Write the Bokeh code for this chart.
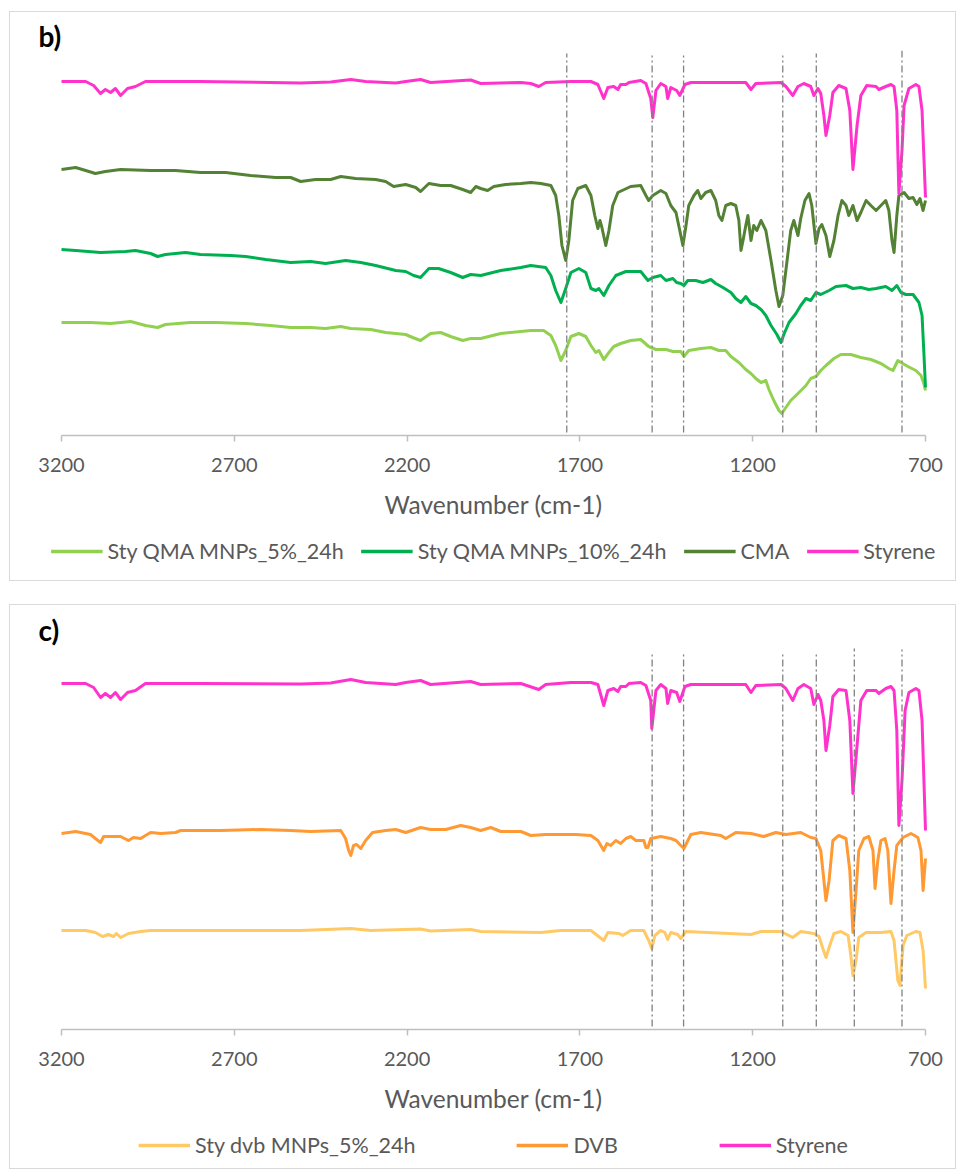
from bokeh.plotting import figure
from bokeh.models import Range1d, FixedTicker, Legend, LegendItem
from bokeh.layouts import column
from bokeh.embed import file_html
from bokeh.resources import INLINE

# ---------------------------------------------------------------- data
# FTIR spectra, transmittance offset for stacking (a.u.), wavenumber in cm-1
ticks = [3200, 2700, 2200, 1700, 1200, 700]

# panel b)
b_styrene_wn = [3200, 3130, 3107, 3087, 3073, 3058, 3044, 3029, 3009, 2986, 2957, 2798, 2508, 2421,
                2363, 2320, 2233, 2204, 2161, 2132, 2016, 1987, 1871, 1842, 1819, 1799, 1726, 1668,
                1648, 1631, 1619, 1602, 1590, 1582, 1567, 1558, 1524, 1509, 1495, 1489, 1480, 1466,
                1451, 1446, 1437, 1420, 1411, 1396, 1379, 1292, 1220, 1205, 1191, 1118, 1104, 1084,
                1069, 1052, 1032, 1023, 1011, 1003, 994, 988, 977, 968, 951, 930, 919, 910, 898, 887,
                870, 843, 835, 815, 800, 791, 783, 777, 768, 762, 748, 728, 719, 710, 700]
b_styrene_t = [354, 354, 350, 342, 346, 343, 347, 340, 347, 349, 354, 354, 352.5, 353.5,
               356, 354, 352.5, 354, 356, 353, 355.5, 352, 353, 352, 349, 353, 354, 354,
               351, 337, 348, 349, 346, 351, 351, 353, 355, 352, 337, 318, 345, 352,
               349, 337, 348, 345, 340, 351, 353, 353, 353, 346, 352, 353, 349, 340,
               349, 352, 349, 340, 347, 342, 320, 300, 320, 343, 350, 347, 325, 266, 310, 340,
               350, 349, 346, 349, 351, 349, 325, 242, 285, 330, 347, 351, 349, 325, 238]

b_cma_wn = [3200, 3159, 3130, 3102, 3073, 3029, 2942, 2870, 2798, 2725, 2653, 2580, 2537, 2508,
            2465, 2421, 2392, 2349, 2291, 2262, 2239, 2204, 2175, 2161, 2137, 2103, 2074, 2039,
            2016, 2001, 1987, 1967, 1949, 1915, 1871, 1842, 1813, 1784, 1770, 1761, 1752, 1741,
            1732, 1721, 1706, 1683, 1668, 1657, 1648, 1642, 1637, 1625, 1616, 1605, 1590, 1553,
            1524, 1509, 1501, 1489, 1466, 1451, 1437, 1422, 1411, 1402, 1393, 1385, 1370, 1359,
            1350, 1336, 1321, 1307, 1298, 1289, 1278, 1263, 1249, 1240, 1234, 1228, 1220, 1214,
            1205, 1197, 1188, 1176, 1162, 1147, 1133, 1124, 1113, 1104, 1090, 1081, 1069, 1061,
            1049, 1037, 1029, 1017, 1008, 1000, 988, 977, 965, 953, 942, 930, 922, 910, 898, 887,
            872, 858, 843, 829, 815, 806, 797, 791, 783, 777, 762, 748, 736, 725, 716, 707, 700]
b_cma_t = [266, 268, 265, 262, 264, 266, 265, 265, 263, 263, 260, 258, 258, 254,
           256, 256, 259, 257, 256, 254, 249, 251, 248, 244, 252, 250, 250, 246,
           243, 249, 247, 245, 249, 251, 252, 253, 252, 250, 240, 220, 190, 175,
           195, 235, 247, 250, 240, 220, 207, 215, 209, 190, 205, 230, 243, 249,
           250, 240, 235, 240, 245, 242, 230, 223, 205, 190, 210, 230, 240, 245,
           237, 243, 245, 235, 220, 215, 230, 232, 230, 215, 185, 195, 210, 220,
           195, 210, 205, 215, 205, 175, 145, 129, 140, 165, 205, 215, 200, 217,
           235, 242, 230, 192, 207, 211, 200, 179, 195, 220, 235, 230, 220, 230, 215, 223,
           235, 230, 225, 230, 235, 225, 195, 183, 220, 240, 243, 237, 238, 231, 237, 225, 235]

b_qma10_wn = [3200, 3159, 3087, 3015, 2986, 2942, 2922, 2899, 2841, 2798, 2711, 2667, 2609, 2537,
              2479, 2436, 2378, 2334, 2291, 2233, 2204, 2181, 2161, 2137, 2109, 2074, 2039, 2016,
              1987, 1929, 1871, 1842, 1799, 1784, 1770, 1755, 1741, 1726, 1703, 1683, 1668, 1654,
              1645, 1631, 1616, 1596, 1567, 1524, 1503, 1489, 1466, 1451, 1431, 1420, 1408, 1399,
              1388, 1365, 1344, 1321, 1307, 1286, 1263, 1249, 1234, 1220, 1205, 1191, 1176, 1162,
              1147, 1130, 1118, 1110, 1095, 1075, 1061, 1046, 1032, 1017, 1003, 979, 959, 930, 910,
              887, 864, 843, 815, 797, 783, 771, 757, 736, 719, 710, 705, 700]
b_qma10_t = [186, 185, 183, 184, 185, 182, 179, 181, 183, 181, 180, 179, 176, 173,
             174, 172, 175, 173, 170, 165, 164, 160, 158, 167, 167, 163, 158, 161,
             160, 165, 168, 170, 168, 160, 145, 133, 147, 163, 167, 163, 147, 145,
             147, 140, 150, 160, 164, 164, 155, 158, 160, 155, 157, 153, 152, 150,
             155, 155, 153, 156, 152, 148, 143, 137, 133, 139, 132, 130, 126, 120,
             110, 101, 93, 101, 113, 122, 130, 137, 135, 143, 141, 145, 149, 150, 147,
             148, 146, 147, 149, 145, 150, 143, 141, 141, 133, 120, 85, 48]

b_qma5_wn = [3200, 3116, 3058, 3000, 2957, 2922, 2899, 2827, 2754, 2667, 2595, 2537, 2479, 2436,
             2392, 2363, 2305, 2262, 2204, 2184, 2161, 2132, 2103, 2074, 2039, 2016, 1987, 1929,
             1842, 1805, 1784, 1770, 1755, 1741, 1726, 1703, 1683, 1668, 1654, 1645, 1631, 1616,
             1602, 1582, 1553, 1524, 1501, 1480, 1451, 1431, 1408, 1399, 1385, 1350, 1321, 1298,
             1278, 1263, 1240, 1220, 1205, 1191, 1176, 1162, 1153, 1139, 1124, 1116, 1104, 1090,
             1069, 1046, 1032, 1017, 1003, 988, 965, 945, 916, 887, 858, 829, 806, 794, 780, 771,
             751, 728, 713, 705, 700]
b_qma5_t = [113, 113, 112, 114, 110, 108, 111, 113, 113, 112, 110, 108, 108, 107,
            109, 107, 106, 103, 101, 98, 95, 102, 103, 99, 95, 97, 97, 102,
            105, 105, 100, 90, 75, 85, 99, 102, 99, 90, 83, 85, 76, 83,
            89, 92, 95, 96, 89, 86, 86, 84, 84, 79, 85, 87, 88, 85,
            85, 79, 73, 66, 62, 57, 53, 55, 46, 35, 25, 22, 28, 35,
            42, 50, 57, 59, 65, 70, 77, 81, 81, 78, 76, 72, 67, 65, 75, 73,
            69, 65, 60, 52, 45]

# panel c)
c_styrene_wn = [3200, 3130, 3107, 3087, 3073, 3058, 3044, 3029, 3009, 2986, 2957, 2798, 2508, 2421,
                2363, 2320, 2233, 2204, 2161, 2132, 2016, 1987, 1871, 1819, 1799, 1726, 1668, 1648,
                1631, 1619, 1602, 1590, 1582, 1567, 1558, 1524, 1509, 1495, 1492, 1480, 1466, 1451,
                1446, 1437, 1420, 1411, 1396, 1379, 1292, 1220, 1205, 1191, 1118, 1104, 1084, 1069,
                1052, 1032, 1023, 1011, 1003, 994, 988, 977, 968, 951, 930, 919, 910, 898, 887, 870,
                843, 835, 815, 800, 791, 783, 777, 768, 759, 748, 728, 719, 710, 700]
c_styrene_t = [346, 346, 342, 332, 336, 332, 337, 330, 337, 339, 346, 346, 345.5, 346.5,
               350, 347, 345, 347, 349, 345, 348, 345, 346, 340, 345, 347, 347, 345,
               324, 339, 341, 338, 343, 343, 346, 347, 344, 329, 301, 339, 345, 341,
               326, 339, 337, 328, 343, 345, 345, 345, 337, 344, 345, 341, 329, 341,
               345, 341, 325, 335, 329, 309, 279, 304, 333, 340, 339, 309, 236, 284, 329, 339,
               339, 336, 341, 343, 339, 299, 204, 249, 319, 337, 341, 339, 309, 199]

c_dvb_wn = [3200, 3159, 3116, 3102, 3087, 3078, 3058, 3029, 3006, 2992, 2971, 2957, 2942, 2913,
            2870, 2855, 2740, 2624, 2537, 2479, 2392, 2378, 2369, 2363, 2355, 2346, 2334, 2320,
            2300, 2262, 2233, 2204, 2161, 2132, 2088, 2045, 2016, 1987, 1958, 1929, 1871, 1842,
            1799, 1755, 1712, 1668, 1648, 1631, 1622, 1611, 1596, 1582, 1567, 1553, 1538, 1515,
            1509, 1503, 1495, 1466, 1437, 1422, 1408, 1399, 1379, 1350, 1292, 1278, 1249, 1205,
            1168, 1133, 1104, 1061, 1032, 1017, 1003, 994, 988, 979, 968, 951, 930, 919, 910, 901,
            893, 878, 864, 852, 846, 838, 829, 817, 809, 800, 791, 783, 765, 742, 722, 713, 707, 700]
c_dvb_t = [196, 198, 195, 191, 187, 193, 193, 193, 189, 192, 191, 194, 197, 196,
           197, 199, 199, 200, 199, 198, 199, 191, 179, 174, 184, 185, 181, 189,
           197, 199, 200, 197, 202, 200, 200, 204, 202, 199, 202, 198, 198, 194,
           195, 195, 195, 194, 189, 179, 186, 184, 189, 186, 191, 193, 189, 189,
           182, 182, 191, 193, 191, 189, 184, 181, 195, 197, 194, 191, 197, 196,
           193, 197, 195, 197, 192, 191, 179, 149, 129, 149, 189, 194, 191, 159, 97, 139,
           179, 191, 193, 179, 141, 169, 189, 191, 179, 126, 159, 184, 192, 196, 192, 179, 139, 171]

c_dvb5_wn = [3200, 3130, 3102, 3081, 3064, 3049, 3041, 3029, 3006, 2971, 2942, 2508, 2363, 2305,
             2161, 2132, 2016, 1987, 1813, 1755, 1668, 1631, 1619, 1587, 1576, 1553, 1515, 1501,
             1492, 1483, 1466, 1454, 1446, 1437, 1417, 1408, 1393, 1205, 1176, 1118, 1084, 1061,
             1023, 1008, 997, 988, 977, 965, 945, 924, 916, 910, 901, 893, 872, 829, 800, 791, 780,
             774, 765, 754, 728, 716, 707, 700]
c_dvb5_t = [99, 99, 97, 93, 95, 93, 96, 92, 96, 98, 99, 99, 101, 99,
            100.5, 98.5, 100, 98, 97, 99, 99, 89, 97, 96, 94, 99, 99, 89,
            81, 94, 99, 97, 90, 97, 95, 91, 98, 95, 98, 98, 92, 98,
            96, 93, 81, 72, 84, 96, 98, 94, 74, 54, 69, 92, 97, 97, 98, 89, 49,
            44, 84, 94, 98, 97, 79, 41]

# reference band positions (cm-1) marked with dash-dot guides, and their top ends
b_bands = [1738, 1491, 1400, 1113, 1016, 768]
b_band_tops = [382, 380, 380, 380, 382, 385]
c_bands = [1491, 1400, 1113, 1016, 906, 768]
c_band_tops = [376, 376, 376, 377, 381, 380]

b_series = [
    ("Sty QMA MNPs_5%_24h", b_qma5_wn, b_qma5_t, "#92D050"),
    ("Sty QMA MNPs_10%_24h", b_qma10_wn, b_qma10_t, "#00B050"),
    ("CMA", b_cma_wn, b_cma_t, "#548235"),
    ("Styrene", b_styrene_wn, b_styrene_t, "#FF33CC"),
]
c_series = [
    ("Sty dvb MNPs_5%_24h", c_dvb5_wn, c_dvb5_t, "#FFC966"),
    ("DVB", c_dvb_wn, c_dvb_t, "#FF9933"),
    ("Styrene", c_styrene_wn, c_styrene_t, "#FF33CC"),
]

FONT = "Lato"
GREY_TXT = "#595959"
WIDTH = 945
Y_TOP = 385

# the frame runs 20 px past both end ticks (3200 and 700), 31 px / 10 px from the canvas edges,
# so axis title and legend stay centred on the wavenumber axis
BORDER_L, BORDER_R, PAD = 31, 10, 20
PX_PER_WN = (WIDTH - BORDER_L - BORDER_R - 2 * PAD) / (ticks[0] - ticks[-1])
X_START = ticks[0] + PAD / PX_PER_WN
X_END = ticks[-1] - PAD / PX_PER_WN


def make_panel(tag, series, bands, band_tops, spacing, h_main, h_leg, top_gap):
    p = figure(width=WIDTH, height=h_main,
               x_range=Range1d(X_START, X_END), y_range=Range1d(0, Y_TOP),
               output_backend="svg", toolbar_location=None, y_axis_location=None,
               min_border_left=BORDER_L, min_border_right=BORDER_R, min_border_top=top_gap,
               min_border_bottom=h_main - top_gap - Y_TOP,
               background_fill_color="white", border_fill_color="white",
               outline_line_color=None)
    p.xgrid.visible = False
    p.ygrid.visible = False

    # panel tag drawn as the title, at the left edge
    p.title.text = tag
    p.title.align = "left"
    p.title.offset = -3
    p.title.standoff = -4
    p.title.text_font = FONT
    p.title.text_font_style = "bold"
    p.title.text_font_size = "28px"
    p.title.text_color = "black"

    ax = p.xaxis[0]
    ax.ticker = FixedTicker(ticks=ticks)
    ax.bounds = (ticks[-1], ticks[0])
    ax.axis_label = "Wavenumber (cm-1)"
    ax.axis_line_color = "#bfbfbf"
    ax.axis_line_width = 1.5
    ax.major_tick_line_color = "#bfbfbf"
    ax.major_tick_line_width = 1.5
    ax.major_tick_in = 0
    ax.major_tick_out = 6
    ax.minor_tick_line_color = None
    ax.major_label_text_font = FONT
    ax.major_label_text_font_size = "20px"
    ax.major_label_text_color = GREY_TXT
    ax.major_label_standoff = 16
    ax.axis_label_text_font = FONT
    ax.axis_label_text_font_size = "24.5px"
    ax.axis_label_text_font_style = "normal"
    ax.axis_label_text_color = GREY_TXT
    ax.axis_label_standoff = 15

    for name, wn, t, color in series:
        p.line(wn, t, line_color=color, line_width=3, line_join="round")

    # dash-dot guides at the characteristic bands
    p.segment(x0=bands, y0=[3] * len(bands), x1=bands, y1=band_tops,
              line_color="#808080", line_width=1.3, line_dash="7 3 2 3")

    # legend strip under the axis title (frame aligned with the spectrum frame)
    leg = figure(width=WIDTH, height=h_leg, x_range=Range1d(X_START, X_END), y_range=Range1d(0, 1),
                 output_backend="svg", toolbar_location=None,
                 x_axis_location=None, y_axis_location=None,
                 min_border_left=BORDER_L, min_border_right=BORDER_R,
                 min_border_top=0, min_border_bottom=0,
                 background_fill_color="white", border_fill_color="white",
                 outline_line_color=None)
    leg.xgrid.visible = False
    leg.ygrid.visible = False
    items = []
    for name, wn, t, color in series:
        r = leg.line(wn, t, line_color=color, line_width=3.5)
        items.append(LegendItem(label=name, renderers=[r]))
    legend = Legend(items=items, orientation="horizontal", location="top_center", margin=8,
                    glyph_width=52, glyph_height=24, label_standoff=5, spacing=spacing,
                    padding=0, border_line_color=None, background_fill_alpha=0,
                    label_text_font=FONT, label_text_font_size="21.5px",
                    label_text_color=GREY_TXT)
    leg.add_layout(legend)

    return column(p, leg, styles={"border": "1px solid #d9d9d9"})


box_b = make_panel("b)", b_series, b_bands, b_band_tops, 17, 518, 50, 38)
box_c = make_panel("c)", c_series, c_bands, c_band_tops, 101, 519, 44, 39)
box_b.margin = (11, 0, 0, 9)
box_c.margin = (23, 0, 0, 9)

page = column(box_b, box_c)
open("out.html", "w").write(file_html(page, INLINE))
